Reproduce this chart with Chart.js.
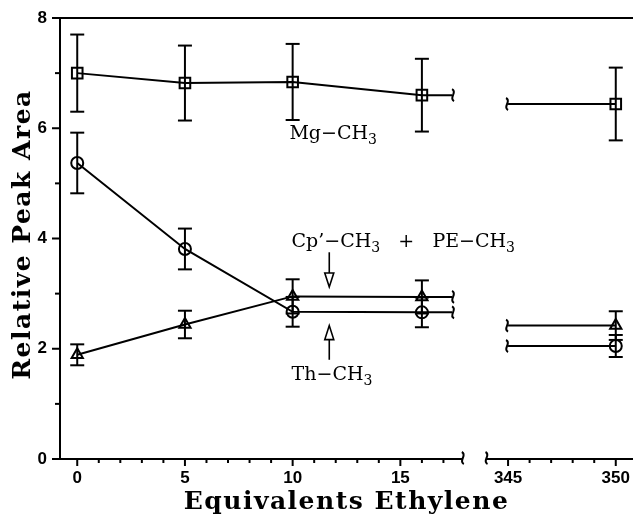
<!DOCTYPE html>
<html>
<head>
<meta charset="utf-8">
<script src="https://cdn.jsdelivr.net/npm/chart.js@4/dist/chart.umd.min.js"></script>
<style>
html, body { margin: 0; padding: 0; background: #fff; overflow: hidden; }
#grafico { display: block; }
</style>
</head>
<body>
<canvas id="grafico" width="633" height="515"></canvas>
<script>
// valores
const equivalentes = [0, 5, 10, 16, 350]
const mgCH3 = [7.00, 6.82, 6.84, 6.60, 6.44]
const mgErro = [0.70, 0.68, 0.69, 0.66, 0.66]
const thCH3 = [5.37, 3.81, 2.67, 2.66, 2.05]
const thErro = [0.55, 0.37, 0.27, 0.27, 0.20]
const cpCH3 = [1.89, 2.44, 2.95, 2.94, 2.42]
const cpErro = [0.19, 0.25, 0.31, 0.30, 0.26]
const ticksX = [0, 5, 10, 15, 345, 350]
const ticksY = [0, 2, 4, 6, 8]
const tituloX = 'Equivalents Ethylene'
const tituloY = 'Relative Peak Area'

// eixo quebrado: 18..344 sai do desenho
const fimEsquerda = 17.4, inicioDireita = 345
const corteEixo = [17.9, 344]
function tx(v){ return v > 100 ? v - 325 : v }

function montaSerie(valores){
	let pts = []
	for (let i = 0; i < 4; i++)
		pts.push({x: tx(equivalentes[i]), y: valores[i], marca: true, i: i})
	pts.push({x: tx(fimEsquerda), y: valores[3], marca: false})
	pts.push({x: tx(fimEsquerda) + 0.1, y: null, marca: false})
	pts.push({x: tx(inicioDireita), y: valores[4], marca: false})
	pts.push({x: tx(equivalentes[4]), y: valores[4], marca: true, i: 4})
	return pts
}

function serie(nome, valores, erros, estilo, raio){
	return {
		label: nome,
		data: montaSerie(valores),
		erros: erros,
		borderColor: '#000',
		borderWidth: 2,
		backgroundColor: 'rgba(0,0,0,0)',
		pointStyle: estilo,
		pointBorderWidth: 2,
		pointBorderColor: '#000',
		pointRadius: (ctx) => ctx.raw && ctx.raw.marca ? raio : 0,
		tension: 0,
		spanGaps: false
	}
}

function linha(c, x1, y1, x2, y2){
	c.beginPath(); c.moveTo(x1, y1); c.lineTo(x2, y2); c.stroke()
}

function rabisco(c, x, y){
	c.beginPath()
	c.moveTo(x - 1, y - 6)
	c.bezierCurveTo(x + 5, y - 3, x - 5, y + 3, x + 1, y + 6)
	c.stroke()
}

function seta(c, x, y1, y2){
	// y2 = ponta da seta
	let dir = y2 > y1 ? 1 : -1
	let base = y2 - dir * 14
	linha(c, x, y1, x, base)
	c.beginPath()
	c.moveTo(x - 4.5, base); c.lineTo(x + 4.5, base); c.lineTo(x, y2); c.closePath()
	c.stroke()
}

function quimica(c, partes, x, y){
	let px = x
	for (let p of partes) {
		if (p[1]) {
			c.font = '14px "DejaVu Serif", serif'
			c.fillText(p[0], px, y + 5)
		} else {
			c.font = '19px "DejaVu Serif", serif'
			c.fillText(p[0], px, y)
		}
		px += c.measureText(p[0]).width
	}
}

const desenhaExtras = {
	id: 'extras',
	afterDatasetsDraw(chart){
		const c = chart.ctx, sx = chart.scales.x, sy = chart.scales.y, a = chart.chartArea
		c.save()
		c.strokeStyle = '#000'
		c.fillStyle = '#000'
		c.lineWidth = 2
		c.lineCap = 'butt'

		// moldura e eixos
		linha(c, a.left, a.top, a.left, a.bottom)
		linha(c, a.left, a.top, a.right, a.top)
		let xq1 = sx.getPixelForValue(tx(corteEixo[0]))
		let xq2 = sx.getPixelForValue(tx(corteEixo[1]))
		linha(c, a.left, a.bottom, xq1, a.bottom)
		linha(c, xq2, a.bottom, a.right, a.bottom)
		rabisco(c, xq1, a.bottom - 1)
		rabisco(c, xq2, a.bottom - 1)

		// marcas do eixo y
		for (let v = 0; v <= 8; v++) {
			let py = sy.getPixelForValue(v)
			linha(c, a.left - (v % 2 == 0 ? 8 : 5), py, a.left, py)
		}
		// marcas e números do eixo x
		let valoresX = []
		for (let v = 0; v <= 17; v++) valoresX.push(v)
		for (let v = 345; v <= 350; v++) valoresX.push(v)
		c.font = 'bold 17px "Liberation Sans", Arial, sans-serif'
		c.textAlign = 'center'
		c.textBaseline = 'alphabetic'
		for (let v of valoresX) {
			let px = sx.getPixelForValue(tx(v))
			let major = ticksX.indexOf(v) >= 0
			linha(c, px, a.bottom, px, a.bottom + (major ? 7 : 4))
			if (major) c.fillText(String(v), px, 483)
		}

		// barras de erro e rabiscos das linhas
		chart.data.datasets.forEach((ds, k) => {
			let meta = chart.getDatasetMeta(k)
			ds.data.forEach((p, j) => {
				if (!p.marca) return
				let px = meta.data[j].x
				let e = ds.erros[p.i]
				let yt = sy.getPixelForValue(p.y + e)
				let yb = sy.getPixelForValue(p.y - e)
				linha(c, px, yt, px, yb)
				linha(c, px - 7, yt, px + 7, yt)
				linha(c, px - 7, yb, px + 7, yb)
			})
			let y16 = ds.data[4].y, y350 = ds.data[7].y
			rabisco(c, sx.getPixelForValue(tx(fimEsquerda)) + 1, sy.getPixelForValue(y16))
			rabisco(c, sx.getPixelForValue(tx(inicioDireita)) - 1, sy.getPixelForValue(y350))
		})

		// títulos dos eixos
		c.font = 'bold 25px "DejaVu Serif", serif'
		c.letterSpacing = '1.5px'
		c.fillText(tituloX, (a.left + a.right) / 2, 509)
		c.save()
		c.translate(30, (a.top + a.bottom) / 2 - 4)
		c.rotate(-Math.PI / 2)
		c.fillText(tituloY, 0, 0)
		c.restore()
		c.letterSpacing = '0px'
		c.textAlign = 'left'

		// rótulos e setas
		c.lineWidth = 1.6
		quimica(c, [['Mg\u2212CH', false], ['3', true]], sx.getPixelForValue(9.85), sy.getPixelForValue(5.80))
		quimica(c, [['Cp\u2019\u2212CH', false], ['3', true], ['   +   PE\u2212CH', false], ['3', true]],
			sx.getPixelForValue(9.95), sy.getPixelForValue(3.85))
		quimica(c, [['Th\u2212CH', false], ['3', true]], sx.getPixelForValue(9.95), sy.getPixelForValue(1.43))
		let xs = sx.getPixelForValue(11.7)
		seta(c, xs, sy.getPixelForValue(3.75), sy.getPixelForValue(3.12))
		seta(c, xs, sy.getPixelForValue(1.8), sy.getPixelForValue(2.42))
		c.restore()
	}
}

const fonteTick = {family: '"Liberation Sans", Arial, sans-serif', weight: 'bold', size: 17}

var grafico = document.getElementById('grafico').getContext('2d')
new Chart(grafico, {
	type: 'line',
	data: {
		datasets: [
			serie('Mg-CH3', mgCH3, mgErro, 'rect', 7.5),
			serie('Th-CH3', thCH3, thErro, 'circle', 6),
			serie('Cp-CH3 + PE-CH3', cpCH3, cpErro, 'triangle', 6.5)
		]
	},
	options: {
		responsive: false,
		animation: false,
		events: [],
		layout: {autoPadding: false, padding: {top: 18, right: 0, left: 0, bottom: 0}},
		plugins: {legend: {display: false}, tooltip: {enabled: false}},
		scales: {
			x: {
				type: 'linear',
				min: -0.8,
				max: 25.8,
				grid: {display: false, drawTicks: false},
				border: {display: false},
				afterBuildTicks: (s) => { s.ticks = ticksX.map(v => ({value: tx(v)})) },
				afterFit: (s) => { s.height = 56 },
				ticks: {display: false}
			},
			y: {
				min: 0,
				max: 8,
				grid: {display: false, drawTicks: false},
				border: {display: false},
				afterBuildTicks: (s) => { s.ticks = ticksY.map(v => ({value: v})) },
				afterFit: (s) => { s.width = 60; s.paddingTop = 0; s.paddingBottom = 0 },
				ticks: {font: fonteTick, color: '#000', padding: 13}
			}
		}
	},
	plugins: [desenhaExtras]
})
</script>
</body>
</html>
